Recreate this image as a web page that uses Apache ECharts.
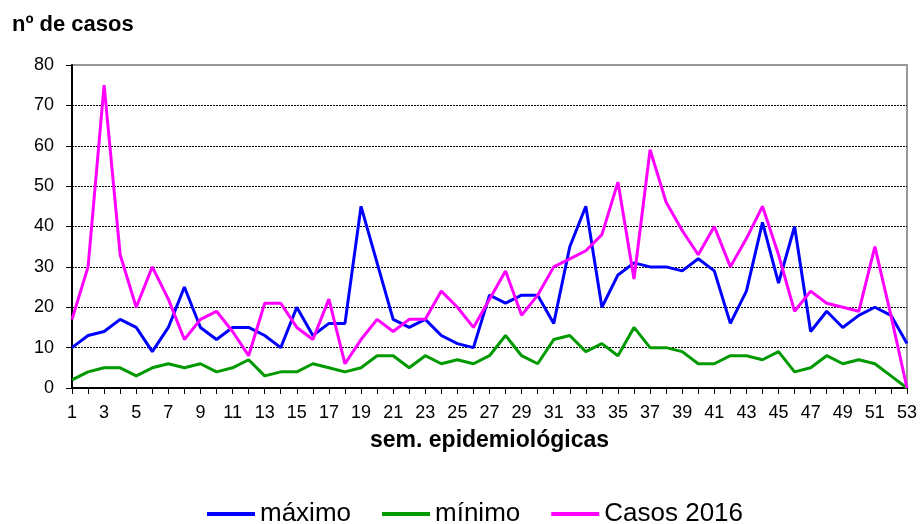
<!DOCTYPE html>
<html><head><meta charset="utf-8">
<script src="https://cdn.jsdelivr.net/npm/echarts@6/dist/echarts.min.js"></script>
<style>html,body{margin:0;padding:0;background:#fff}#c{width:920px;height:524px}</style>
</head><body><div id="c"></div>
<script>
const weeks = Array.from({length:53},(_,i)=>String(i+1));
const maximo = [10,13,14,17,15,9,15,25,15,12,15,15,13,10,20,13,16,16,45,31,17,15,17,13,11,10,23,21,23,23,16,35,45,20,28,31,30,30,29,32,29,16,24,41,26,40,14,19,15,18,20,18,11];
const minimo = [2,4,5,5,3,5,6,5,6,4,5,7,3,4,4,6,5,4,5,8,8,5,8,6,7,6,8,13,8,6,12,13,9,11,8,15,10,10,9,6,6,8,8,7,9,4,5,8,6,7,6,3,0];
const casos2016 = [17,30,75,33,20,30,22,12,17,19,14,8,21,21,15,12,22,6,12,17,14,17,17,24,20,15,22,29,18,23,30,32,34,38,51,27,59,46,39,33,40,30,37,45,33,19,24,21,20,19,35,18,0];
const yTicks = [0,10,20,30,40,50,60,70,80];

const chart = echarts.init(document.getElementById('c'), null, {renderer:'canvas'});
const font = 'Arial, "Liberation Sans", sans-serif';
chart.setOption({
  animation:false,
  backgroundColor:'#fff',
  title:{text:'nº de casos', left:7, top:9, textStyle:{fontFamily:font, fontSize:22, fontWeight:'bold', color:'#000'}},
  grid:{left:72, right:13, top:65, bottom:136, show:true, borderColor:'#999', borderWidth:2},
  legend:{left:202, top:496, itemGap:31, itemWidth:48, itemHeight:4, icon:'rect',
    textStyle:{fontFamily:font, fontSize:26, color:'#000', padding:[0,0,0,0]},
    data:['máximo','mínimo','Casos 2016']},
  xAxis:{type:'category', data:weeks, boundaryGap:false,
    name:'sem. epidemiológicas', nameLocation:'middle', nameGap:41,
    nameTextStyle:{fontFamily:font, fontSize:23, fontWeight:'bold', color:'#000'},
    axisLine:{lineStyle:{color:'#000', width:2}},
    axisTick:{show:true, interval:0, length:6, lineStyle:{color:'#000', width:1}},
    axisLabel:{interval:1, fontFamily:font, fontSize:18, color:'#000', margin:16},
    splitLine:{show:false}},
  yAxis:{type:'value', min:yTicks[0], max:yTicks[yTicks.length-1], interval:10,
    axisLine:{show:true, lineStyle:{color:'#000', width:2}},
    axisTick:{show:true, length:6, lineStyle:{color:'#000'}},
    axisLabel:{fontFamily:font, fontSize:18, color:'#000', margin:18},
    splitLine:{show:true, lineStyle:{type:[2,1], width:1, color:['#000','#000','#000','#000','#000','#000','#000','#000','rgba(0,0,0,0)']}}},
  series:[
    {name:'máximo', type:'line', data:maximo, symbol:'none', lineStyle:{color:'#0000ff', width:3}, itemStyle:{color:'#0000ff'}, z:3},
    {name:'mínimo', type:'line', data:minimo, symbol:'none', lineStyle:{color:'#009900', width:3}, itemStyle:{color:'#009900'}, z:2},
    {name:'Casos 2016', type:'line', data:casos2016, symbol:'none', lineStyle:{color:'#ff00ff', width:3}, itemStyle:{color:'#ff00ff'}, z:4}
  ]
});
</script></body></html>
